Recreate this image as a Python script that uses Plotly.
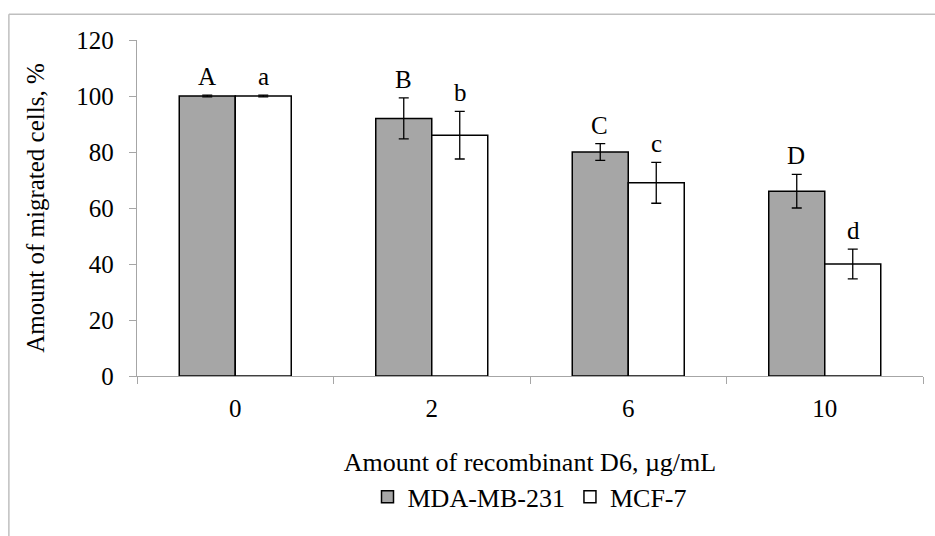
import plotly.graph_objects as go

categories = ["0", "2", "6", "10"]
mda_values = [100, 92, 80, 66]
mda_errors = [0.3, 7.3, 3.0, 6.0]
mcf_values = [100, 86, 69, 40]
mcf_errors = [0.3, 8.5, 7.3, 5.3]
mda_letters = ["A", "B", "C", "D"]
mcf_letters = ["a", "b", "c", "d"]

FONT = "Liberation Serif, Times New Roman, serif"
FS = 26

fig = go.Figure()
fig.add_trace(go.Bar(
    name="MDA-MB-231", x=categories, y=mda_values,
    marker=dict(color="#A6A6A6", line=dict(color="#000000", width=1.5)),
    error_y=dict(type="data", array=mda_errors, color="#000000", thickness=1.3, width=5),
))
fig.add_trace(go.Bar(
    name="MCF-7", x=categories, y=mcf_values,
    marker=dict(color="#FFFFFF", line=dict(color="#000000", width=1.5)),
    error_y=dict(type="data", array=mcf_errors, color="#000000", thickness=1.3, width=5),
))

for i, (v, e, t) in enumerate(zip(mda_values, mda_errors, mda_letters)):
    fig.add_annotation(x=i, y=v + e, text=t, showarrow=False, xshift=-28.5,
                       yanchor="bottom", yshift=3, font=dict(family=FONT, size=FS - 1, color="#000"))
for i, (v, e, t) in enumerate(zip(mcf_values, mcf_errors, mcf_letters)):
    fig.add_annotation(x=i, y=v + e, text=t, showarrow=False, xshift=28.5,
                       yanchor="bottom", yshift=3, font=dict(family=FONT, size=FS - 1, color="#000"))

# outer chart frame (cropped)
fig.add_shape(type="line", xref="paper", yref="paper", x0=-0.163, x1=1.2, y0=1.077, y1=1.077,
              line=dict(color="#BFBFBF", width=1.5))
fig.add_shape(type="line", xref="paper", yref="paper", x0=-0.163, x1=-0.163, y0=1.077, y1=-0.7,
              line=dict(color="#BFBFBF", width=1.5))

fig.update_layout(
    width=935, height=536,
    margin=dict(l=137, r=12, t=40, b=160),
    paper_bgcolor="white", plot_bgcolor="white",
    barmode="group", bargap=0.43, bargroupgap=0,
    font=dict(family=FONT, size=FS, color="#000"),
    showlegend=True,
    legend=dict(orientation="h", x=0.5, xanchor="center", y=-0.29, yanchor="top",
                font=dict(family=FONT, size=FS), traceorder="normal"),
)
fig.update_xaxes(
    type="category", range=[-0.5, 3.5], showline=True, linecolor="#A6A6A6", linewidth=1.3,
    ticks="outside", tickson="boundaries", ticklen=7, tickcolor="#A6A6A6",
    ticklabelstandoff=10,
    title=dict(text="Amount of recombinant D6, µg/mL", standoff=31, font=dict(family=FONT, size=FS)),
    tickfont=dict(family=FONT, size=FS - 1),
    showgrid=False, zeroline=False,
)
fig.update_yaxes(
    range=[0, 120], tickvals=[0, 20, 40, 60, 80, 100, 120],
    showline=True, linecolor="#A6A6A6", linewidth=1.3,
    ticks="outside", ticklen=7, tickcolor="#A6A6A6",
    ticklabelstandoff=10,
    title=dict(text="Amount of migrated cells, %", standoff=24, font=dict(family=FONT, size=FS - 1)),
    tickfont=dict(family=FONT, size=FS - 1),
    showgrid=False, zeroline=False,
)

fig.write_html("out.html")
